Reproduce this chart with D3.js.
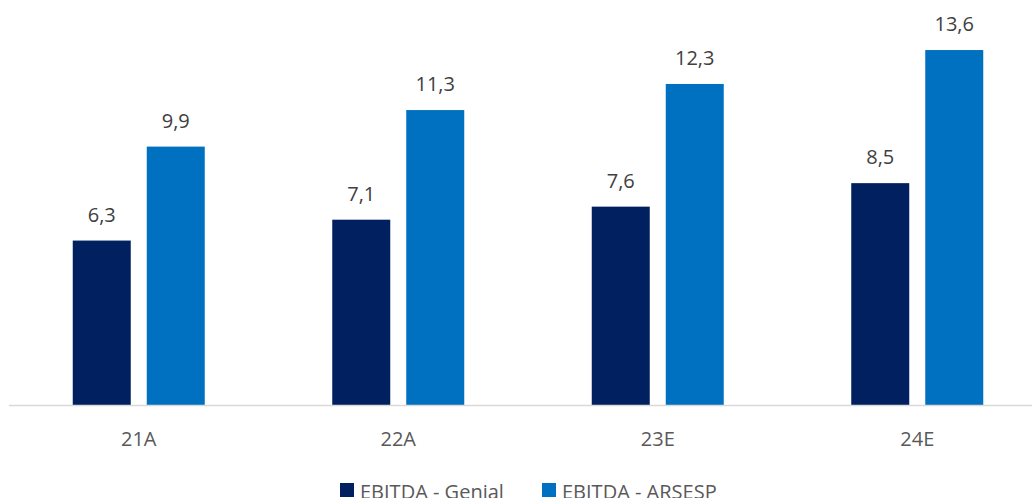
<!DOCTYPE html>
<html>
<head>
<meta charset="utf-8">
<script src="https://cdn.jsdelivr.net/npm/d3@7"></script>
<style>
  body { margin: 0; background: #fff; }
  text { font-family: "Open Sans", sans-serif; }
</style>
</head>
<body>
<div id="container"></div>
<script>
/* CONSTANTS AND GLOBALS */
const width = 1032;
const height = 498;

const categories = ["21A", "22A", "23E", "24E"];
const seriesNames = ["EBITDA - Genial", "EBITDA - ARSESP"];
const genial = [6.3, 7.1, 7.6, 8.5];
const arsesp = [9.9, 11.3, 12.3, 13.6];
const colors = ["#002060", "#0070C0"];

const data = categories.map((c, i) => ({ cat: c, values: [genial[i], arsesp[i]] }));

const svg = d3.select("#container")
  .append("svg")
  .attr("width", width)
  .attr("height", height);

const xScale = d3.scaleBand()
  .domain(categories)
  .range([9, 1047])
  .padding(0);

const groupW = 132;
const x1 = d3.scaleBand()
  .domain([0, 1])
  .range([(xScale.bandwidth() - groupW) / 2, (xScale.bandwidth() + groupW) / 2])
  .paddingInner(0.2162)
  .paddingOuter(0);

const yScale = d3.scaleLinear()
  .domain([0, 15])
  .range([405, 405 - 15 * 26.1]);

const fmt = v => d3.format(".1f")(v).replace(".", ",");

// bars
const groups = svg.selectAll(".grp")
  .data(data)
  .join("g")
  .attr("class", "grp")
  .attr("transform", d => `translate(${xScale(d.cat)},0)`);

groups.selectAll("rect")
  .data(d => d.values.map((v, k) => ({ v, k })))
  .join("rect")
  .attr("x", d => x1(d.k))
  .attr("y", d => yScale(d.v))
  .attr("width", x1.bandwidth())
  .attr("height", d => yScale(0) - yScale(d.v))
  .attr("fill", d => colors[d.k]);

groups.selectAll(".lbl")
  .data(d => d.values.map((v, k) => ({ v, k })))
  .join("text")
  .attr("class", "lbl")
  .attr("x", d => x1(d.k) + x1.bandwidth() / 2)
  .attr("y", d => yScale(d.v) - 19)
  .attr("text-anchor", "middle")
  .attr("font-size", 20)
  .attr("fill", "#404040")
  .text(d => fmt(d.v));

// x axis
const xAxis = d3.axisBottom(xScale).tickSize(0).tickPadding(27);
const gx = svg.append("g")
  .attr("transform", `translate(0, ${yScale(0)})`)
  .call(xAxis);
gx.select(".domain").attr("stroke", "#d9d9d9").attr("stroke-width", 1.5)
  .attr("d", `M9,0.5H${width}`);
gx.selectAll("text")
  .attr("font-size", 20)
  .attr("fill", "#595959")
  .style("font-family", "Open Sans, sans-serif");

// legend
const legendX = [340, 542];
const legend = svg.selectAll(".leg")
  .data(seriesNames)
  .join("g")
  .attr("class", "leg")
  .attr("transform", (d, i) => `translate(${legendX[i]}, 483)`);

legend.append("rect")
  .attr("width", 14)
  .attr("height", 14)
  .attr("fill", (d, i) => colors[i]);

legend.append("text")
  .attr("x", 20)
  .attr("y", 16)
  .attr("font-size", 20)
  .attr("fill", "#595959")
  .text(d => d);
</script>
</body>
</html>
